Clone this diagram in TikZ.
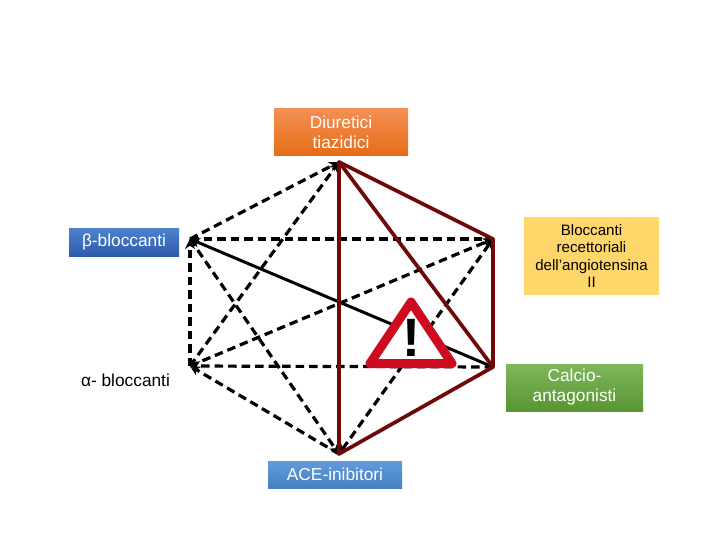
\documentclass[tikz,border=0pt]{standalone}
\usepackage{fontspec}
\setmainfont{Liberation Sans}
\usetikzlibrary{arrows.meta,positioning}
\definecolor{maroon}{RGB}{112,8,8}
\definecolor{signred}{RGB}{205,10,30}
\definecolor{postit}{RGB}{255,214,105}
\definecolor{orangetop}{RGB}{243,143,84}
\definecolor{orangelow}{RGB}{230,108,22}
\definecolor{bluetop}{RGB}{76,128,205}
\definecolor{bluelow}{RGB}{45,92,172}
\definecolor{skytop}{RGB}{96,155,220}
\definecolor{skylow}{RGB}{70,128,192}
\definecolor{greentop}{RGB}{128,182,92}
\definecolor{greenlow}{RGB}{88,150,50}

\begin{document}
\begin{tikzpicture}[x=1pt, y=-1pt, auto,
        block/.style={rectangle, align=center, inner sep=0pt, text=white, font=\fontsize{17.3}{20}\selectfont},
        orangebox/.style={block, top color=orangetop, bottom color=orangelow, minimum width=134pt, minimum height=47pt},
        bluebox/.style={block, top color=bluetop, bottom color=bluelow, minimum width=110pt, minimum height=27pt},
        skybox/.style={block, top color=skytop, bottom color=skylow, minimum width=134pt, minimum height=27pt},
        greenbox/.style={block, top color=greentop, bottom color=greenlow, minimum width=137pt, minimum height=47pt},
        yellowbox/.style={block, fill=postit, text=black, minimum width=135pt, minimum height=78pt, font=\fontsize{15.1}{17.2}\selectfont},
        link/.style={draw=black, line width=3.2pt, dash pattern=on 8.5pt off 5pt, -{Stealth[length=10pt,width=10pt]}},
        bond/.style={draw=maroon, line width=3.7pt, line cap=round, line join=round}]
        \useasboundingbox (0,0) rectangle (720,540);
        \fill[white] (0,0) rectangle (720,540);

        \node[orangebox] (diuretici) at (341,132.5) {Diuretici\\tiazidici};
        \node[bluebox] (beta) at (124,242.5) {β-bloccanti};
        \node[block, text=black] (alfa) at (125.5,380) {α- bloccanti};
        \node[yellowbox] (sartani) at (591.5,256) {Bloccanti\\recettoriali\\dell’angiotensina\\II};
        \node[greenbox] (calcio) at (574.5,387.5) {Calcio-\\antagonisti};
        \node[skybox] (ace) at (335,474.5) {ACE-inibitori};

        % corners of the hexagon
        \coordinate (top) at (339,162);
        \coordinate (upright) at (493,239);
        \coordinate (lowright) at (493,367);
        \coordinate (bottom) at (339,454);
        \coordinate (lowleft) at (190,366);
        \coordinate (upleft) at (190,239);

        \draw[link] (lowleft) -- (upleft);
        \draw[link] (upleft) -- (top);
        \draw[link] (lowleft) -- (top);
        \draw[link] (upleft) -- (upright);
        \draw[link] (lowleft) -- (upright);
        \draw[link, {Stealth[length=10pt,width=10pt]}-{Stealth[length=10pt,width=10pt]}] (bottom) -- (upright);
        \draw[link] (lowright) -- (lowleft);
        \draw[link] (upleft) -- (bottom);
        \draw[link] (bottom) -- (lowleft);
        \draw[line width=3pt, -{Stealth[length=10pt,width=10pt]}] (lowright) -- (upleft);

        \draw[bond] (top) -- (upright) -- (lowright) -- (bottom) -- (top);
        \draw[bond] (top) -- (lowright);

        % warning sign
        \coordinate (apex) at (411,302);
        \coordinate (signleft) at (370,363.5);
        \coordinate (signright) at (452,363.5);
        \draw[fill=white, draw=signred, line width=9pt, line join=round] (apex) -- (signleft) -- (signright) -- cycle;
        \node[inner sep=0pt, font=\fontsize{54}{54}\bfseries\selectfont] (mark) at (411,338) {!};
\end{tikzpicture}
\end{document}
